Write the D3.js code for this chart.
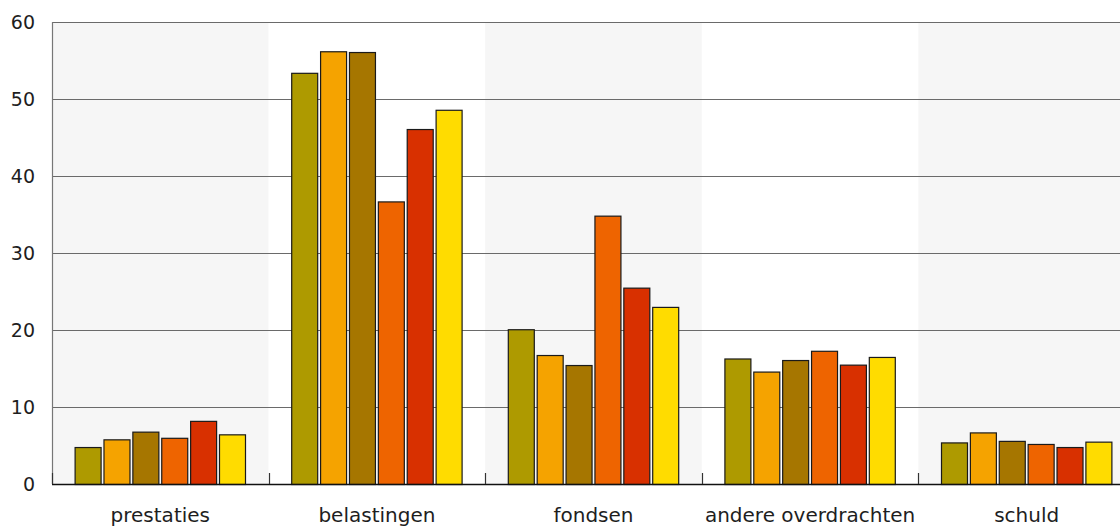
<!DOCTYPE html>
<html>
<head>
<meta charset="utf-8">
<script src="https://cdn.jsdelivr.net/npm/d3@7"></script>
<style>
  html, body { margin: 0; padding: 0; background: #fff; }
  svg { display: block; }
  text { font-family: "DejaVu Sans", sans-serif; fill: #1e1e1e; }
</style>
</head>
<body>
<svg id="chart" width="1120" height="526"></svg>
<script>
const categories = ["prestaties", "belastingen", "fondsen", "andere overdrachten", "schuld"];
const seriesNames = ["s1", "s2", "s3", "s4", "s5", "s6"];
const s1 = [4.8, 53.4, 20.1, 16.3, 5.4];
const s2 = [5.8, 56.2, 16.75, 14.6, 6.7];
const s3 = [6.8, 56.1, 15.45, 16.1, 5.6];
const s4 = [6.0, 36.7, 34.85, 17.3, 5.2];
const s5 = [8.2, 46.1, 25.5, 15.5, 4.8];
const s6 = [6.45, 48.6, 23.0, 16.5, 5.5];
const seriesValues = [s1, s2, s3, s4, s5, s6];
const colors = ["#ae9a00", "#f5a300", "#a67600", "#ee6400", "#d83000", "#ffdc00"];
const yTicks = [0, 10, 20, 30, 40, 50, 60];

(function () {
const svg = d3.select("#chart");
const mLeft = 52, mTop = 22, mBottom = 484;
const bandW = 216.6;
const mRight = mLeft + bandW * categories.length;

const x0 = d3.scaleBand().domain(categories).range([mLeft, mRight]).padding(0);
const x1 = d3.scaleBand().domain(seriesNames).range([0, x0.bandwidth()])
  .paddingInner(0.1).paddingOuter(0.8);
const y = d3.scaleLinear().domain([0, 60]).range([mBottom, mTop]);

svg.append("g").selectAll("rect").data(categories).join("rect")
  .attr("x", d => x0(d)).attr("y", mTop)
  .attr("width", x0.bandwidth()).attr("height", mBottom - mTop)
  .attr("fill", (d, i) => i % 2 === 0 ? "#f6f6f6" : "#ffffff");

svg.append("g").selectAll("line").data(yTicks.filter(t => t > 0)).join("line")
  .attr("x1", mLeft).attr("x2", 1120)
  .attr("y1", d => Math.round(y(d)) + 0.5).attr("y2", d => Math.round(y(d)) + 0.5)
  .attr("stroke", "#6a6a6a").attr("stroke-width", 1.2);

svg.append("line").attr("x1", mLeft + 0.5).attr("x2", mLeft + 0.5)
  .attr("y1", mTop).attr("y2", mBottom).attr("stroke", "#777").attr("stroke-width", 1.2);

svg.append("g").selectAll("text").data(yTicks).join("text")
  .attr("x", 35).attr("y", d => y(d)).attr("dy", "0.36em")
  .attr("text-anchor", "end").attr("font-size", 19)
  .text(d => d);

const groups = svg.append("g").selectAll("g").data(categories).join("g")
  .attr("transform", d => `translate(${x0(d)},0)`);
groups.selectAll("rect")
  .data((c, ci) => seriesNames.map((s, si) => ({ s, si, v: seriesValues[si][ci] })))
  .join("rect")
  .attr("x", d => x1(d.s))
  .attr("y", d => y(d.v) + 0.5)
  .attr("width", x1.bandwidth())
  .attr("height", d => mBottom - y(d.v))
  .attr("fill", d => colors[d.si])
  .attr("stroke", "#1a1a1a").attr("stroke-width", 1.2);

svg.append("line").attr("x1", mLeft).attr("x2", 1120)
  .attr("y1", mBottom + 0.5).attr("y2", mBottom + 0.5)
  .attr("stroke", "#111").attr("stroke-width", 1.3);

const bounds = categories.map(c => x0(c));
svg.append("g").selectAll("line").data(bounds).join("line")
  .attr("x1", d => Math.round(d) + 0.5).attr("x2", d => Math.round(d) + 0.5)
  .attr("y1", mBottom - 11).attr("y2", mBottom)
  .attr("stroke", "#333").attr("stroke-width", 1.2);

svg.append("g").selectAll("text").data(categories).join("text")
  .attr("x", d => x0(d) + x0.bandwidth() / 2).attr("y", 522)
  .attr("text-anchor", "middle").attr("font-size", 20)
  .text(d => d);
})();
</script>
</body>
</html>
